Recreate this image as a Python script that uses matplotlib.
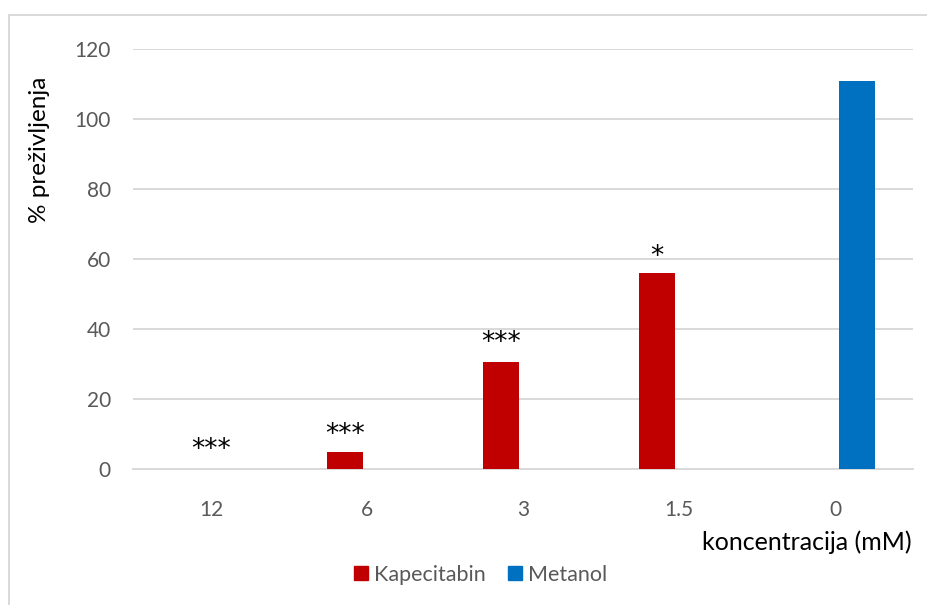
import matplotlib
matplotlib.use("Agg")
import matplotlib.pyplot as plt
import numpy as np
from matplotlib.lines import Line2D

categories = ["12", "6", "3", "1.5", "0"]
kapecitabin = [0, 4.8, 30.7, 56.1, np.nan]
metanol = [np.nan, np.nan, np.nan, np.nan, 110.9]
stars = ["***", "***", "***", "*", ""]
star_y = [5.4, 9.7, 36.0, 60.6, None]
star_dx = [0.14, 0.0, 0.0, 0.0, 0.0]
yticks = [0, 20, 40, 60, 80, 100, 120]

RED = "#C00000"
BLUE = "#0070C0"
GRID = "#D9D9D9"
TICK = "#595959"
FONT = "Lato"

fig = plt.figure(figsize=(9.28, 6.05), dpi=100)
W, H = 928, 605
ax = fig.add_axes([133 / W, 1 - 469 / H, 780 / W, 420 / H])

x = np.arange(len(categories))
bw = 0.225
off = 0.141
ax.bar(x - off, kapecitabin, bw, color=RED, zorder=3)
ax.bar(x + off, metanol, bw, color=BLUE, zorder=3)

for i, s in enumerate(stars):
    if s:
        ax.text(x[i] - off + star_dx[i], star_y[i], s, ha="center", va="center",
                fontsize=19, family="DejaVu Sans", color="black")

ax.set_xlim(-0.5, len(categories) - 0.5)
ax.set_ylim(0, 120)
ax.set_yticks(yticks)
ax.set_xticks(x)
ax.set_xticklabels(categories)
ax.yaxis.grid(True, color=GRID, linewidth=1.4, zorder=0)
ax.set_axisbelow(True)
for sp in ["top", "right", "left"]:
    ax.spines[sp].set_visible(False)
ax.spines["bottom"].set_color(GRID)
ax.spines["bottom"].set_linewidth(1.4)
ax.tick_params(axis="both", length=0, labelsize=15, labelcolor=TICK)
ax.tick_params(axis="x", pad=22)
ax.tick_params(axis="y", pad=16)
for lbl in ax.get_xticklabels() + ax.get_yticklabels():
    lbl.set_family(FONT)

fig.text(40 / W, 1 - 150 / H, "% preživljenja", rotation=90, ha="center", va="center",
         fontsize=17.5, family=FONT, color="black")
fig.text(912 / W, 1 - 542 / H, "koncentracija (mM)", ha="right", va="center",
         fontsize=18, family=FONT, color="black")

handles = [Line2D([], [], marker="s", linestyle="none", markersize=10, color=RED),
           Line2D([], [], marker="s", linestyle="none", markersize=10, color=BLUE)]
leg = fig.legend(handles, ["Kapecitabin", "Metanol"], loc="center",
                 bbox_to_anchor=(480 / W, 1 - 575 / H), ncol=2, frameon=False,
                 handlelength=0.7, handletextpad=0.25, columnspacing=1.0,
                 prop={"family": FONT, "size": 15.5})
for t in leg.get_texts():
    t.set_color(TICK)

fig.add_artist(Line2D([9.5 / W, 1], [1 - 15 / H, 1 - 15 / H], color=GRID, linewidth=1.4,
                      transform=fig.transFigure))
fig.add_artist(Line2D([9.5 / W, 9.5 / W], [0, 1 - 15 / H], color=GRID, linewidth=1.4,
                      transform=fig.transFigure))

fig.savefig("out.png", dpi=100)
